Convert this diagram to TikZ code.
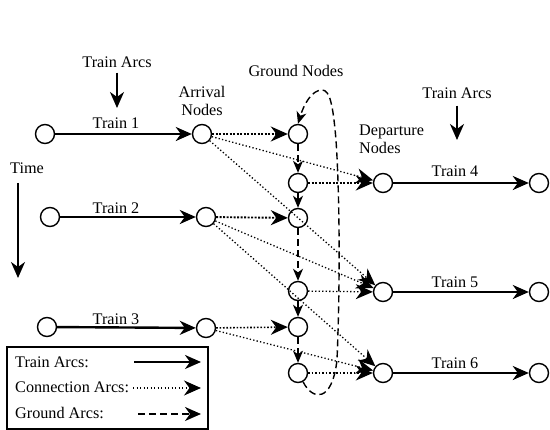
\documentclass[tikz,border=0pt]{standalone}
\usepackage{fontspec}
\setmainfont{Liberation Serif}
\usetikzlibrary{arrows.meta}
\begin{document}
\begin{tikzpicture}[x=1pt,y=-1pt,
  every node/.style={font=\fontsize{16.2}{18}\selectfont},
  nd/.style={circle,draw,line width=1.4pt,minimum size=19pt,inner sep=0pt},
  bigtip/.style={-{Stealth[length=16pt,width=14pt,inset=5pt]}},
  trainarc/.style={bigtip,line width=2.4pt},
  conn/.style={-{Stealth[length=17pt,width=15pt,inset=5.5pt]},line width=1.3pt,dash pattern=on 1.3pt off 2.2pt},
  connthick/.style={conn,line width=1.9pt,dash pattern=on 1.9pt off 1.6pt},
  ground/.style={-{Stealth[length=12pt,width=10pt,inset=3.5pt]},line width=1.4pt,dash pattern=on 7pt off 4pt},
  lbl/.style={inner sep=0pt}
]
\useasboundingbox (0,0) rectangle (550,430);

% nodes
\node[nd] (L1) at (45,134) {};
\node[nd] (A1) at (202,134) {};
\node[nd] (L2) at (50,217) {};
\node[nd] (A2) at (206,217) {};
\node[nd] (L3) at (47,327) {};
\node[nd] (A3) at (206,328) {};

\node[nd] (G1) at (298,134) {};
\node[nd] (G2) at (298,183) {};
\node[nd] (G3) at (298,218) {};
\node[nd] (G4) at (298,291) {};
\node[nd] (G5) at (298,327) {};
\node[nd] (G6) at (298,373) {};

\node[nd] (D4) at (383,183) {};
\node[nd] (R4) at (539,183) {};
\node[nd] (D5) at (383,292) {};
\node[nd] (R5) at (539,292) {};
\node[nd] (D6) at (383,373) {};
\node[nd] (R6) at (539,373) {};

% train arcs
\draw[trainarc] (L1) -- (A1);
\draw[trainarc] (L2) -- (A2);
\draw[trainarc] (L3) -- (A3);
\draw[trainarc] (D4) -- (R4);
\draw[trainarc] (D5) -- (R5);
\draw[trainarc] (D6) -- (R6);

\node[lbl] (t1) at (116,123) {Train 1};
\node[lbl] (t2) at (116,208) {Train 2};
\node[lbl] (t3) at (116,319) {Train 3};
\node[lbl] (t4) at (455,171) {Train 4};
\node[lbl] (t5) at (455,282) {Train 5};
\node[lbl] (t6) at (455,363) {Train 6};

% connection arcs
\draw[connthick] (A1) -- (G1);
\draw[connthick] (G2) -- (D4);
\draw[connthick] (A2) -- (G3);
\draw[conn,line width=1.6pt,dash pattern=on 1.6pt off 1.8pt] (A3) -- (G5);
\draw[conn] (G4) -- (D5);
\draw[conn] (G6) -- (D6);
\draw[conn] (A1) -- (D4);
\draw[conn] (A1) -- (D5);
\draw[conn] (A2) -- (D5);
\draw[conn] (A2) -- (D6);
\draw[conn] (A3) -- (D6);

% ground arcs
\draw[ground] (G1) -- (G2);
\draw[ground] (G2) -- (G3);
\draw[ground] (G3) -- (G4);
\draw[ground] (G4) -- (G5);
\draw[ground] (G5) -- (G6);
\draw[ground] (G6.-60) .. controls (312,400) and (332,404) .. (337,360)
  .. controls (340,290) and (340,200) .. (336,140)
  .. controls (333,105) and (330,90) .. (322,90)
  .. controls (312,90) and (304,104) .. (G1.north);

% labels
\node[lbl] (ta1) at (117,62) {Train Arcs};
\coordinate (ta1e) at (117,108);
\draw[bigtip,line width=2pt] (ta1.south) ++(0,5) -- (ta1e);
\node[lbl,align=center] (arr) at (202,101) {Arrival\\Nodes};
\node[lbl] (gn) at (296,71) {Ground Nodes};
\node[lbl] (ta2) at (457,93) {Train Arcs};
\coordinate (ta2e) at (457,140);
\draw[bigtip,line width=2pt] (ta2.south) ++(0,7) -- (ta2e);
\node[lbl,align=left,anchor=west] (dep) at (359,139) {Departure\\Nodes};
\node[lbl] (time) at (27,168) {Time};
\coordinate (tm1) at (18,183);
\coordinate (tm2) at (18,278);
\draw[bigtip,line width=2pt] (tm1) -- (tm2);

% legend
\draw[line width=1.8pt] (7,347) rectangle (208,429);
\node[lbl,anchor=west] (lg1) at (15,362) {Train Arcs:};
\node[lbl,anchor=west] (lg2) at (15,387) {Connection Arcs:};
\node[lbl,anchor=west] (lg3) at (15,413) {Ground Arcs:};
\coordinate (lg1a) at (134,362); \coordinate (lg1b) at (201,362);
\coordinate (lg2a) at (133,388); \coordinate (lg2b) at (201,388);
\coordinate (lg3a) at (138,414); \coordinate (lg3b) at (201,414);
\draw[trainarc,line width=2pt] (lg1a) -- (lg1b);
\draw[conn] (lg2a) -- (lg2b);
\draw[ground,-{Stealth[length=16pt,width=14pt,inset=5pt]},line width=2pt,dash pattern=on 7pt off 4pt] (lg3a) -- (lg3b);
\end{tikzpicture}
\end{document}
